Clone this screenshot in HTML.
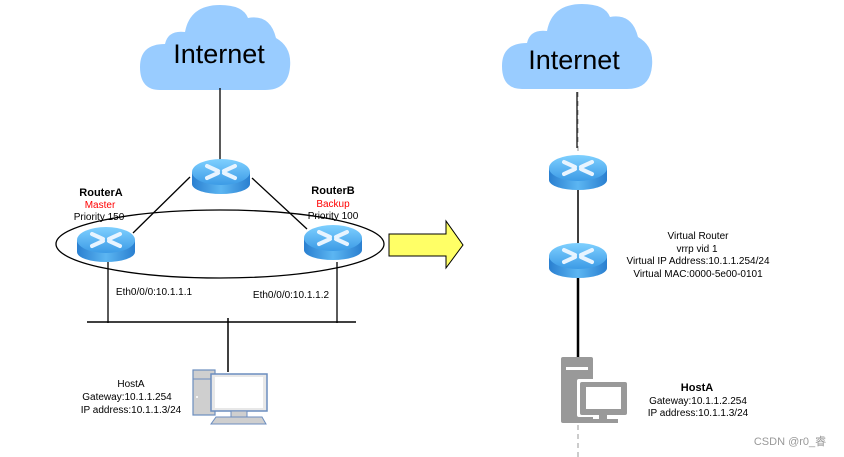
<!DOCTYPE html>
<html><head><meta charset="utf-8"><style>
body{margin:0;background:#fff;}
svg{display:block;font-family:"Liberation Sans",Arial,sans-serif;}
</style></head><body>
<svg width="844" height="457" viewBox="0 0 844 457" xmlns="http://www.w3.org/2000/svg">
<defs>
<linearGradient id="rs" x1="0" x2="1"><stop offset="0" stop-color="#2a7fd0"/><stop offset="0.5" stop-color="#5cb6f2"/><stop offset="1" stop-color="#2a7fd0"/></linearGradient>
<linearGradient id="rt" x1="0" y1="0" x2="0" y2="1"><stop offset="0" stop-color="#7fd0ff"/><stop offset="1" stop-color="#3c9be6"/></linearGradient>
<g id="router">
<path d="M-29,-4 L-29,8 A29,10 0 0 0 29,8 L29,-4 Z" fill="url(#rs)"/>
<ellipse cx="0" cy="-4" rx="29" ry="13" fill="url(#rt)"/>
<path d="M-14,-10 L-3,-5 M3,-5 L14,-10 M-14,2 L-3,-3 M3,-3 L14,2" stroke="#e8f4ff" stroke-width="4" stroke-linecap="round"/>
</g>
<path id="cloud" d="M20,88 Q0,88 0,65 Q0,42 25,42 Q28,28 45,30 Q50,3 80,3 Q103,3 108,16 Q130,12 136,36 Q152,45 150,65 Q148,88 125,88 Z" fill="#99ccff"/>
</defs>
<!-- left side -->
<use href="#cloud" x="140" y="2"/>
<text x="219" y="63" font-size="27" text-anchor="middle" fill="#000">Internet</text>
<line x1="220" y1="88" x2="220" y2="160" stroke="#000" stroke-width="1.3"/>
<line x1="190" y1="177" x2="133" y2="233" stroke="#000" stroke-width="1.3"/>
<line x1="252" y1="178" x2="307" y2="229" stroke="#000" stroke-width="1.3"/>
<ellipse cx="220" cy="244" rx="164" ry="34" fill="none" stroke="#000" stroke-width="1.3"/>
<use href="#router" x="221" y="176"/>
<use href="#router" x="106" y="244"/>
<use href="#router" x="333" y="242"/>
<g font-size="10" text-anchor="middle">
<text x="101" y="196" font-weight="bold" font-size="11">RouterA</text>
<text x="100" y="208" fill="#ff0000">Master</text>
<text x="99" y="220">Priority 150</text>
<text x="333" y="194" font-weight="bold" font-size="11">RouterB</text>
<text x="333" y="207" fill="#ff0000">Backup</text>
<text x="333" y="219">Priority 100</text>
<text x="154" y="295">Eth0/0/0:10.1.1.1</text>
<text x="291" y="298">Eth0/0/0:10.1.1.2</text>
<text x="131" y="387">HostA</text>
<text x="127" y="400">Gateway:10.1.1.254</text>
<text x="131" y="413">IP  address:10.1.1.3/24</text>
</g>
<line x1="108" y1="262" x2="108" y2="323" stroke="#000" stroke-width="1.3"/>
<line x1="337" y1="262" x2="337" y2="323" stroke="#000" stroke-width="1.3"/>
<line x1="87" y1="322" x2="356" y2="322" stroke="#000" stroke-width="1.5"/>
<line x1="228" y1="318" x2="228" y2="372" stroke="#000" stroke-width="1.5"/>
<!-- left PC -->
<rect x="193" y="370" width="22" height="45" fill="#cfcfcf" stroke="#6c8ebf" stroke-width="1.2"/>
<line x1="193" y1="379" x2="215" y2="379" stroke="#6c8ebf"/>
<circle cx="197" cy="397" r="1" fill="#fff"/>
<rect x="211" y="374" width="56" height="37" fill="#e8e8e8" stroke="#6c8ebf" stroke-width="1.5"/>
<rect x="215" y="377" width="48" height="31" fill="#fff"/>
<rect x="231" y="411" width="16" height="6" fill="#cfcfcf" stroke="#6c8ebf"/>
<path d="M216,417 L262,417 L266,424 L211,424 Z" fill="#cfcfcf" stroke="#6c8ebf"/>
<!-- arrow -->
<path d="M389,234 L446,234 L446,221 L463,245 L446,268 L446,256 L389,256 Z" fill="#ffff66" stroke="#000" stroke-width="1"/>
<!-- right side -->
<use href="#cloud" x="502" y="1"/>
<text x="574" y="69" font-size="27" text-anchor="middle" fill="#000">Internet</text>
<line x1="578" y1="92" x2="578" y2="457" stroke="#999" stroke-width="1" stroke-dasharray="5,4"/>
<line x1="577" y1="92" x2="577" y2="148" stroke="#000" stroke-width="1.2"/>
<line x1="578" y1="190" x2="578" y2="244" stroke="#000" stroke-width="1.5"/>
<line x1="578" y1="278" x2="578" y2="360" stroke="#000" stroke-width="2.5"/>
<use href="#router" x="578" y="172"/>
<use href="#router" x="578" y="260"/>
<g font-size="10" text-anchor="middle">
<text x="698" y="239">Virtual  Router</text>
<text x="697" y="252">vrrp  vid  1</text>
<text x="698" y="264">Virtual  IP  Address:10.1.1.254/24</text>
<text x="698" y="277">Virtual MAC:0000-5e00-0101</text>
<text x="697" y="391" font-weight="bold" font-size="11">HostA</text>
<text x="698" y="404">Gateway:10.1.1.2.254</text>
<text x="698" y="416">IP  address:10.1.1.3/24</text>
</g>
<!-- right PC -->
<rect x="561" y="357" width="32" height="66" rx="2" fill="#999"/>
<rect x="566" y="367" width="22" height="3" fill="#fff"/>
<rect x="577" y="379" width="52" height="38" rx="2" fill="#fff"/>
<rect x="580" y="382" width="47" height="33" rx="2" fill="#999"/>
<rect x="586" y="387" width="35" height="22" fill="#fff"/>
<rect x="599" y="415" width="8" height="5" fill="#999"/>
<rect x="588" y="419" width="30" height="4" fill="#999"/>
<text x="790" y="445" font-size="11" fill="#999" text-anchor="middle" font-family="Liberation Sans, Noto Sans CJK SC, sans-serif">CSDN @r0_睿</text>
</svg>
</body></html>
